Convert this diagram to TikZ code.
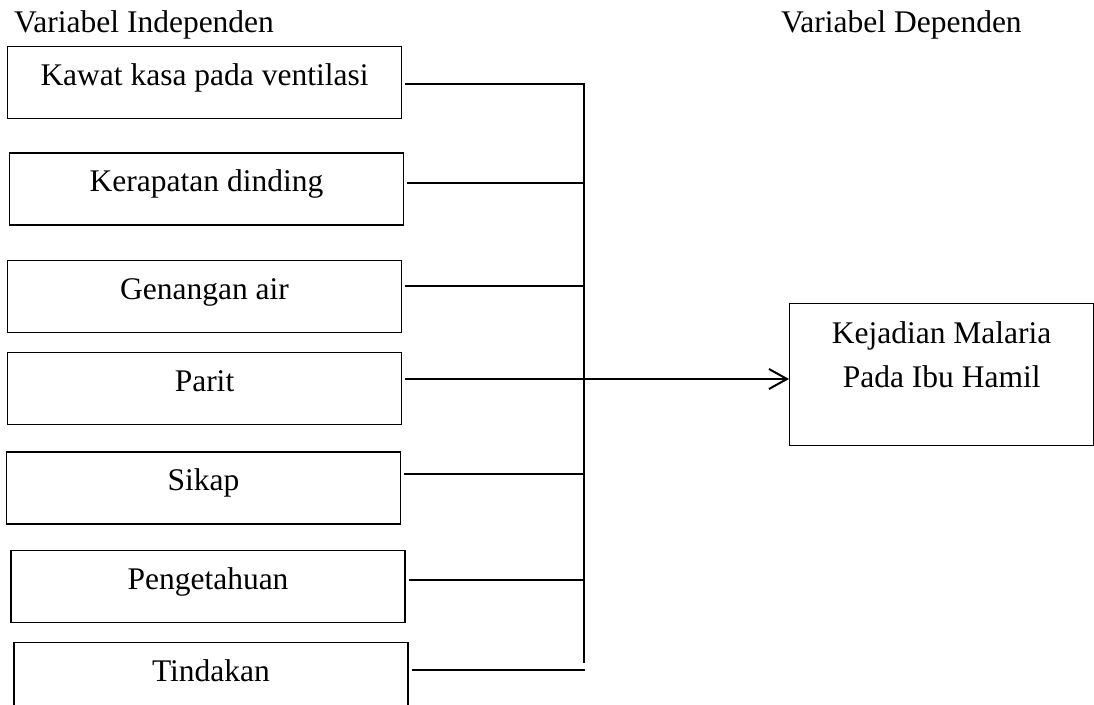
\documentclass[tikz,border=0pt]{standalone}
\usepackage{fontspec}
\setmainfont{Liberation Serif}
\usetikzlibrary{arrows.meta, positioning}

\begin{document}
\begin{tikzpicture}[x=1pt, y=-1pt, font=\fontsize{31.5}{44}\selectfont,
  varbox/.style={rectangle, draw, line width=1.3pt, inner sep=0pt, minimum width=394pt, text height=39pt, text depth=33pt},
  link/.style={line width=2pt}]
\useasboundingbox (0,0) rectangle (1094,704);

\node (indep) [anchor=base west, inner sep=0pt] at (14,32) {Variabel Independen};
\node (dep) [anchor=base west, inner sep=0pt] at (781,32) {Variabel Dependen};

\node (kawat) [varbox, anchor=north] at (204.5,46) {Kawat kasa pada ventilasi};
\node (rapat) [varbox, below=33pt of kawat, xshift=2pt] {Kerapatan dinding};
\node (genang) [varbox, below=34pt of rapat, xshift=-2pt] {Genangan air};
\node (parit) [varbox, below=19pt of genang] {Parit};
\node (sikap) [varbox, below=26pt of parit, xshift=-1pt] {Sikap};
\node (tahu) [varbox, below=25pt of sikap, xshift=4.5pt] {Pengetahuan};
\node (tindak) [varbox, below=19pt of tahu, xshift=3pt] {Tindakan};

\node (malaria) [rectangle, draw, line width=1.3pt, inner sep=0pt, minimum width=304pt, align=center, text height=84pt, text depth=58pt, anchor=north west] at (789,303) {Kejadian Malaria\\Pada Ibu Hamil};

% junctions on the bus
\coordinate (j1) at (585,84);
\coordinate (j2) at (585,183);
\coordinate (j3) at (585,286);
\coordinate (j4) at (585,379);
\coordinate (j5) at (585,474);
\coordinate (j6) at (585,580);
\coordinate (j7) at (585,670);
\coordinate (jend) at (584,663);

\draw[link, shorten <=3pt] (kawat.east |- j1) -- (j1);
\draw[link, shorten <=3pt] (rapat.east |- j2) -- (j2);
\draw[link, shorten <=3pt] (genang.east |- j3) -- (j3);
\draw[link, shorten <=3pt] (sikap.east |- j5) -- (j5);
\draw[link, shorten <=3pt] (tahu.east |- j6) -- (j6);
\draw[link, shorten <=3pt] (tindak.east |- j7) -- (j7);
\draw[link] ([xshift=-1pt]j1) -- (jend);
\draw[link, shorten <=3pt, -{Straight Barb[length=18pt, width=20pt]}] (parit.east |- j4) -- (malaria.west |- j4);
\end{tikzpicture}
\end{document}
